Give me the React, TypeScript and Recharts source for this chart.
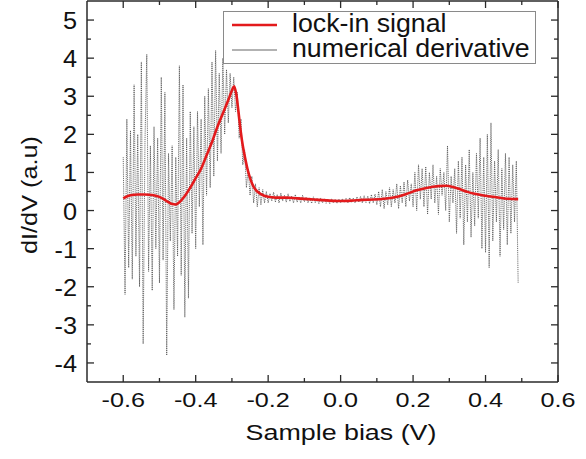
import { LineChart, Line, XAxis, YAxis, Legend } from 'recharts';

// lock-in dI/dV signal (smooth red curve)
const lockInBias = [
  -0.6, -0.59, -0.58, -0.56, -0.54, -0.52, -0.5, -0.48, -0.465, -0.455, -0.445, -0.43, -0.415,
  -0.4, -0.385, -0.37, -0.355, -0.34, -0.325, -0.31, -0.3, -0.294, -0.288, -0.282, -0.276,
  -0.27, -0.264, -0.256, -0.248, -0.24, -0.23, -0.22, -0.2, -0.18, -0.15, -0.12, -0.09, -0.06,
  -0.03, 0.0, 0.03, 0.06, 0.09, 0.12, 0.15, 0.18, 0.21, 0.24, 0.27, 0.29, 0.31, 0.33, 0.35,
  0.37, 0.4, 0.43, 0.46, 0.49,
];
const lockInValues = [
  0.32, 0.37, 0.4, 0.42, 0.42, 0.41, 0.36, 0.25, 0.17, 0.16, 0.22, 0.38, 0.6,
  0.85, 1.1, 1.45, 1.8, 2.2, 2.55, 2.9, 3.15, 3.26, 3.05, 2.6, 2.1,
  1.7, 1.4, 1.05, 0.8, 0.62, 0.5, 0.43, 0.36, 0.34, 0.34, 0.32, 0.3, 0.28,
  0.26, 0.25, 0.26, 0.28, 0.29, 0.31, 0.35, 0.43, 0.53, 0.6, 0.64, 0.65, 0.62, 0.56, 0.49,
  0.44, 0.39, 0.35, 0.31, 0.3,
];

// numerical derivative, sampled every 5 mV from -0.600 V
const derivStart = -0.6;
const derivStep = 0.005;
const derivValues = [
  1.4, -2.2, 2.4, -1.5, 2.1, -1.8, 3.3, -1.2, 2.0, -2.0,
  3.9, -3.5, 1.8, 4.1, -1.6, 1.7, -2.1, 2.2, -1.0, 1.9,
  -1.9, 3.5, -1.3, 3.1, -3.8, 1.5, -0.8, 1.7, -2.6, 1.4,
  -1.2, 3.8, -1.7, 3.3, -2.8, 1.9, -2.3, 2.6, -0.6, 2.2,
  -1.0, 2.6, 0.1, 2.4, -0.9, 3.0, 0.4, 3.2, 0.6, 3.9,
  0.9, 4.2, 1.3, 3.6, 1.5, 4.0, 2.0, 3.7, 2.3, 3.6,
  2.7, 3.5, 2.6, 3.1, 1.9, 2.4, 1.2, 1.6, 0.6, 1.1,
  0.4, 0.9, 0.2, 0.7, 0.1, 0.6, 0.15, 0.55, 0.2, 0.5,
  0.2, 0.45, 0.25, 0.48, 0.22, 0.42, 0.2, 0.46, 0.25, 0.4,
  0.22, 0.44, 0.24, 0.38, 0.2, 0.42, 0.22, 0.36, 0.2, 0.4,
  0.23, 0.35, 0.2, 0.34, 0.19, 0.36, 0.2, 0.32, 0.18, 0.33,
  0.2, 0.31, 0.19, 0.3, 0.18, 0.31, 0.2, 0.29, 0.19, 0.3,
  0.2, 0.31, 0.21, 0.32, 0.2, 0.34, 0.22, 0.33, 0.2, 0.36,
  0.22, 0.37, 0.2, 0.39, 0.21, 0.38, 0.18, 0.42, 0.2, 0.43,
  0.15, 0.5, 0.1, 0.55, 0.05, 0.5, 0.15, 0.6, 0.1, 0.55,
  0.2, 0.7, 0.05, 0.65, 0.2, 0.75, 0.1, 0.8, 0.25, 0.7,
  0.1, 1.0, 0.0, 1.2, 0.3, 1.1, 0.1, 1.15, -0.1, 1.0,
  0.3, 1.2, 0.2, 0.9, -0.1, 1.1, 0.4, 1.0, 0.0, 1.7,
  -0.3, 0.9, 0.2, 1.1, -0.6, 1.3, -0.2, 1.4, -0.9, 1.2,
  -0.3, 1.6, -0.7, 1.0, -0.4, 1.5, -0.2, 1.9, -1.0, 1.4,
  -1.1, 2.0, -1.5, 2.3, -0.8, 1.3, -0.3, 1.6, -1.2, 1.1,
  -0.5, 1.5, -0.9, 1.4, -0.6, 1.2, -0.3, 1.3, -1.9,
];

const xTicks = [-0.6, -0.5, -0.4, -0.3, -0.2, -0.1, 0.0, 0.1, 0.2, 0.3, 0.4, 0.5, 0.6];
const yTicks = [-4, -3.5, -3, -2.5, -2, -1.5, -1, -0.5, 0, 0.5, 1, 1.5, 2, 2.5, 3, 3.5, 4, 4.5, 5];

const lockIn = lockInBias.map((x, i) => ({ x, y: lockInValues[i] }));
const deriv = derivValues.map((y, i) => ({ x: +(derivStart + i * derivStep).toFixed(3), y }));

const FONT = '"Liberation Sans", Arial, Helvetica, sans-serif';
const AXIS = '#2a2a2a';
const MAJOR = 7;
const MINOR = 4;

const isMajorX = (v: number) => Math.round(v * 10) % 2 === 0;
const isMajorY = (v: number) => Number.isInteger(v);

function BottomTick({ x, y, payload }: any) {
  const v = payload.value;
  const major = isMajorX(v);
  return (
    <g>
      <line x1={x} y1={y} x2={x} y2={y - (major ? MAJOR : MINOR)} stroke={AXIS} strokeWidth={1.3} />
      {major && (
        <text transform={`translate(${x},${y + 25}) scale(1.2,1)`} textAnchor="middle" fontSize={21} fontFamily={FONT} fill="#111">
          {v.toFixed(1)}
        </text>
      )}
    </g>
  );
}

function TopTick({ x, y, payload }: any) {
  const major = isMajorX(payload.value);
  return <line x1={x} y1={y} x2={x} y2={y + (major ? MAJOR : MINOR)} stroke={AXIS} strokeWidth={1.3} />;
}

function LeftTick({ x, y, payload }: any) {
  const v = payload.value;
  const major = isMajorY(v);
  return (
    <g>
      <line x1={x} y1={y} x2={x + (major ? MAJOR : MINOR)} y2={y} stroke={AXIS} strokeWidth={1.3} />
      {major && (
        <text transform={`translate(${x - 10},${y + 9}) scale(1.1,1)`} textAnchor="end" fontSize={23} fontFamily={FONT} fill="#111">
          {v}
        </text>
      )}
    </g>
  );
}

function RightTick({ x, y, payload }: any) {
  const major = isMajorY(payload.value);
  return <line x1={x} y1={y} x2={x - (major ? MAJOR : MINOR)} y2={y} stroke={AXIS} strokeWidth={1.3} />;
}

function LegendBox() {
  return (
    <svg width={314} height={54}>
      <rect x={0.5} y={0.5} width={312} height={52} fill="#fff" stroke="#8a8a8a" strokeWidth={1} />
      <line x1={9} y1={14} x2={54} y2={14} stroke="#e31a1c" strokeWidth={2.6} />
      <line x1={9} y1={39} x2={54} y2={39} stroke="#666" strokeWidth={1.2} />
      <text transform="translate(69,21) scale(1.07,1)" fontSize={25} fontFamily={FONT} fill="#111">
        lock-in signal
      </text>
      <text transform="translate(69,46) scale(1.07,1)" fontSize={25} fontFamily={FONT} fill="#111">
        numerical derivative
      </text>
    </svg>
  );
}

export default function App() {
  return (
    <div style={{ position: 'absolute', left: 0, top: 0, background: '#fff' }}>
      <LineChart width={586} height={459} margin={{ top: 0, right: 0, bottom: 0, left: 0 }}>
        <XAxis
          xAxisId="b"
          type="number"
          dataKey="x"
          domain={[-0.7, 0.6]}
          ticks={xTicks}
          interval={0}
          allowDataOverflow
          height={77}
          tickSize={0}
          tickMargin={0}
          tickLine={false}
          stroke={AXIS}
          strokeWidth={1.5}
          tick={<BottomTick />}
          label={{
            content: () => (
              <text transform="translate(341,440) scale(1.22,1)" textAnchor="middle" fontSize={22} fontFamily={FONT} fill="#111">
                Sample bias (V)
              </text>
            ),
          }}
        />
        <XAxis
          xAxisId="t"
          orientation="top"
          type="number"
          dataKey="x"
          domain={[-0.7, 0.6]}
          ticks={xTicks}
          interval={0}
          allowDataOverflow
          height={1}
          tickSize={0}
          tickMargin={0}
          tickLine={false}
          stroke={AXIS}
          strokeWidth={1.5}
          tick={<TopTick />}
        />
        <YAxis
          yAxisId="l"
          type="number"
          domain={[-4.5, 5.5]}
          ticks={yTicks}
          interval={0}
          allowDataOverflow
          width={87}
          tickSize={0}
          tickMargin={0}
          tickLine={false}
          stroke={AXIS}
          strokeWidth={1.5}
          tick={<LeftTick />}
          label={{
            content: () => (
              <text transform="translate(37,195) rotate(-90) scale(1.15,1)" textAnchor="middle" fontSize={22} fontFamily={FONT} fill="#111">
                dI/dV (a.u)
              </text>
            ),
          }}
        />
        <YAxis
          yAxisId="r"
          orientation="right"
          type="number"
          domain={[-4.5, 5.5]}
          ticks={yTicks}
          interval={0}
          allowDataOverflow
          width={28}
          tickSize={0}
          tickMargin={0}
          tickLine={false}
          stroke={AXIS}
          strokeWidth={1.5}
          tick={<RightTick />}
        />
        <Legend
          layout="vertical"
          align="center"
          verticalAlign="middle"
          content={() => <LegendBox />}
          wrapperStyle={{ left: 223, top: 11, width: 314, height: 54, right: 'auto', bottom: 'auto' }}
        />
        <Line
          xAxisId="b"
          yAxisId="l"
          data={deriv}
          dataKey="y"
          type="linear"
          stroke="#4a4a4a"
          strokeWidth={0.85}
          strokeDasharray="1 0.9"
          dot={false}
          activeDot={false}
          isAnimationActive={false}
          legendType="none"
        />
        <Line
          xAxisId="b"
          yAxisId="l"
          data={lockIn}
          dataKey="y"
          type="monotone"
          stroke="#e31a1c"
          strokeWidth={2.6}
          dot={false}
          activeDot={false}
          isAnimationActive={false}
        />
      </LineChart>
    </div>
  );
}
